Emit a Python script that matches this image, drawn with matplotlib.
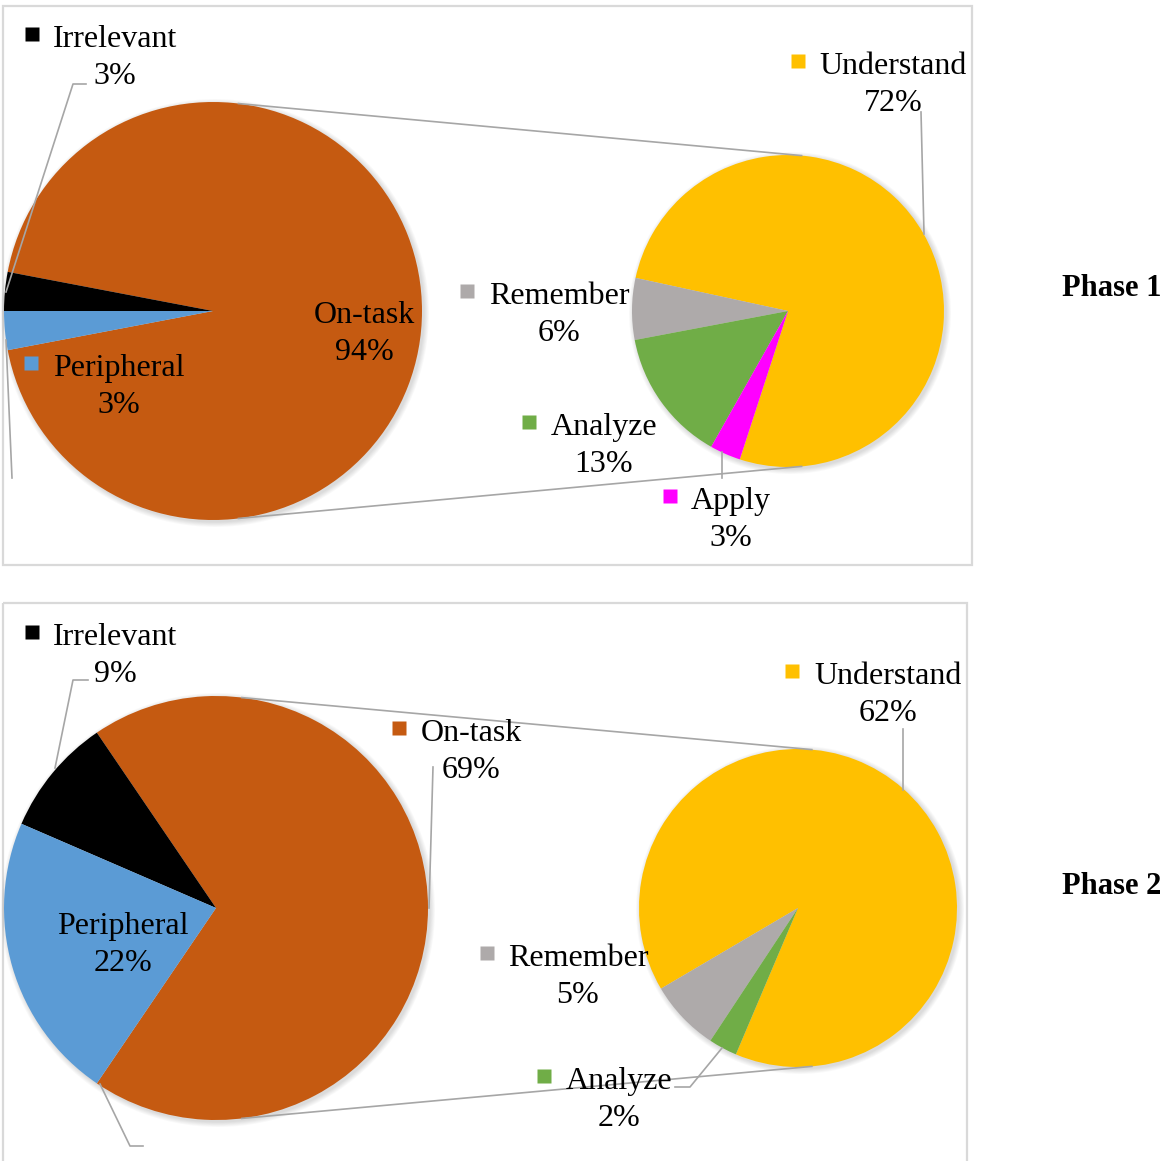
import numpy as np
import matplotlib.pyplot as plt
from matplotlib.patches import Circle, Rectangle

plt.rcParams['font.family'] = ['Liberation Serif', 'DejaVu Serif']

# main pie: share of talk by type
main_names = ['On-task', 'Irrelevant', 'Peripheral']
phase1_main = [94, 3, 3]
phase2_main = [69, 9, 22]

# secondary pie: on-task talk by cognitive level (share of all talk)
sub_names_1 = ['Understand', 'Remember', 'Analyze', 'Apply']
phase1_sub = [72, 6, 13, 3]
sub_names_2 = ['Understand', 'Remember', 'Analyze']
phase2_sub = [62, 5, 2]

colors = {
    'On-task': '#C55A11', 'Irrelevant': '#000000', 'Peripheral': '#5B9BD5',
    'Understand': '#FFC000', 'Remember': '#AEAAAA', 'Analyze': '#70AD47',
    'Apply': '#FF00FF',
}

LINE = '#A6A6A6'
FS = 23

fig = plt.figure(figsize=(11.68, 11.61), dpi=100)
ax = fig.add_axes([0, 0, 1, 1])


def draw_pie(vals, names, center, r, start):
    # soft drop shadow
    for k in range(6):
        ax.add_patch(Circle((center[0] + 2, center[1] + 2), r + 0.5 + k * 0.9,
                            color='#000000', alpha=0.022, lw=0, zorder=1))
    # y axis is inverted, so draw clockwise in data to get counter-clockwise on screen
    ax.pie(vals, colors=[colors[n] for n in names], center=center, radius=r,
           startangle=-start, counterclock=False, frame=True,
           wedgeprops=dict(linewidth=0, zorder=2))


def rim(center, r, ang):
    a = np.deg2rad(ang)
    return center[0] + r * np.cos(a), center[1] - r * np.sin(a)


def connect(mc, mr, sc, sr):
    for s in (1, -1):
        x1, y1 = rim(mc, mr, 83 * s)
        x2, y2 = rim(sc, sr, 85 * s)
        ax.plot([x1, x2], [y1, y2], color=LINE, lw=1.2, zorder=3)


def label(name, value, x, base, key_x=None):
    ax.text(x, base, name, ha='center', va='baseline', fontsize=FS, zorder=5)
    ax.text(x, base + 37, f'{value}%', ha='center', va='baseline', fontsize=FS, zorder=5)
    if key_x is not None:
        ax.plot([key_x], [base - 13], marker='s', ms=10.5, color=colors[name],
                mec='none', zorder=5)


def leader(pts):
    xs, ys = zip(*pts)
    ax.plot(xs, ys, color=LINE, lw=1.2, zorder=4)


# ---------- Phase 1 ----------
ax.add_patch(Rectangle((3, 6), 969, 559, fill=False, ec='#D9D9D9', lw=1.6, zorder=0))
c1, r1 = (213, 311), 209
s1, sr1 = (788, 311), 156
draw_pie(phase1_main, main_names, c1, r1, -phase1_main[0] * 3.6 / 2)
draw_pie(phase1_sub, sub_names_1, s1, sr1, -108)
connect(c1, r1, s1, sr1)

leader([(86, 84), (73, 84), (6, 292)])
leader([(12, 478), (6, 340)])
leader([(921, 112), (924, 234)])
leader([(722, 452), (722, 478)])

p1_pos = {'On-task': (364, 323, None), 'Irrelevant': (115, 47, 32),
          'Peripheral': (119, 376, 31)}
for n, v in zip(main_names, phase1_main):
    x, b, k = p1_pos[n]
    label(n, v, x, b, k)
p1_sub_pos = {'Understand': (893, 74, 798), 'Remember': (559, 304, 467),
              'Analyze': (604, 435, 529), 'Apply': (731, 509, 670)}
for n, v in zip(sub_names_1, phase1_sub):
    x, b, k = p1_sub_pos[n]
    label(n, v, x, b, k)

ax.text(1112, 288, 'Phase 1', ha='center', va='center', fontsize=22, fontweight='bold')

# ---------- Phase 2 ----------
ax.add_patch(Rectangle((3, 603), 964, 600, fill=False, ec='#D9D9D9', lw=1.6, zorder=0))
c2, r2 = (216, 908), 212
s2, sr2 = (798, 908), 159
draw_pie(phase2_main, main_names, c2, r2, -phase2_main[0] * 3.6 / 2)
draw_pie(phase2_sub, sub_names_2, s2, sr2, -113)
connect(c2, r2, s2, sr2)

leader([(88, 680), (73, 680), (55, 768)])
leader([(100, 1084), (130, 1146), (143, 1146)])
leader([(433, 767), (429, 908)])
leader([(903, 729), (903, 790)])
leader([(722, 1048), (690, 1087), (675, 1087)])

p2_pos = {'On-task': (471, 741, 399), 'Irrelevant': (115, 645, 32),
          'Peripheral': (123, 934, None)}
for n, v in zip(main_names, phase2_main):
    x, b, k = p2_pos[n]
    label(n, v, x, b, k)
p2_sub_pos = {'Understand': (888, 684, 792), 'Remember': (578, 966, 487),
              'Analyze': (619, 1089, 544)}
for n, v in zip(sub_names_2, phase2_sub):
    x, b, k = p2_sub_pos[n]
    label(n, v, x, b, k)

ax.text(1112, 886, 'Phase 2', ha='center', va='center', fontsize=22, fontweight='bold')

ax.set_xlim(0, 1168)
ax.set_ylim(1161, 0)
ax.set_aspect('equal')
ax.axis('off')

fig.savefig('out.png', dpi=100, facecolor='white')
